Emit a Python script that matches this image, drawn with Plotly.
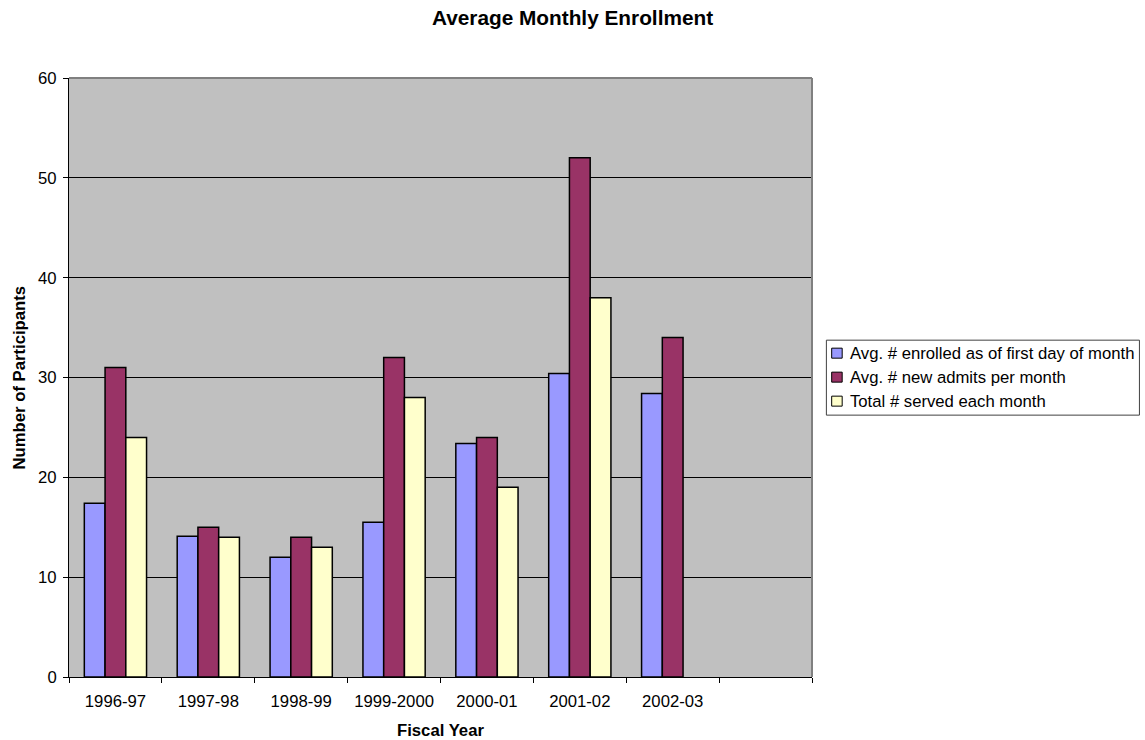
import plotly.graph_objects as go

# Fiscal years on the category axis (one spare slot at the end stays empty)
years = ["1996-97", "1997-98", "1998-99", "1999-2000", "2000-01", "2001-02", "2002-03"]
n_slots = 8

series_names = [
    "Avg. # enrolled as of first day of month",
    "Avg. # new admits per month",
    "Total # served each month",
]
enrolled_first_day = [17.4, 14.1, 12.0, 15.5, 23.4, 30.4, 28.4]
new_admits = [31, 15, 14, 32, 24, 52, 34]
total_served = [24, 14, 13, 28, 19, 38, None]

colors = ["#9999FF", "#993366", "#FFFFCC"]
FONT = "Liberation Sans, Arial, sans-serif"

W, H = 1145, 740
L, R, T, B = 68.7, 812.3, 77.7, 677.0


def px_x(x):
    return (x - L) / (R - L)


def px_y(y):
    return (B - y) / (B - T)


xpos = list(range(len(years)))

fig = go.Figure()
for name, vals, col in zip(series_names, [enrolled_first_day, new_admits, total_served], colors):
    fig.add_trace(go.Bar(
        x=xpos, y=vals, name=name,
        marker=dict(color=col, line=dict(color="black", width=1.5)),
        showlegend=False,
    ))

shapes = [
    # top and right edges of the plot area
    dict(type="line", xref="paper", yref="paper", x0=0, x1=1, y0=1, y1=1,
         line=dict(color="#808080", width=2)),
    dict(type="line", xref="paper", yref="paper", x0=1, x1=1, y0=0, y1=1,
         line=dict(color="#808080", width=2)),
    # legend box
    dict(type="rect", xref="paper", yref="paper",
         x0=px_x(826.7), x1=px_x(1140), y0=px_y(415), y1=px_y(340),
         line=dict(color="#404040", width=1), fillcolor="white"),
]

annotations = [
    dict(text="<b>Fiscal Year</b>", xref="paper", yref="paper", x=0.5, y=0,
         yshift=-53, showarrow=False, xanchor="center", yanchor="middle",
         font=dict(family=FONT, size=16.7, color="black")),
    dict(text="<b>Number of Participants</b>", xref="paper", yref="paper", x=0, y=0.5,
         xshift=-50, textangle=-90, showarrow=False, xanchor="center", yanchor="middle",
         font=dict(family=FONT, size=16.7, color="black")),
]

# legend entries: swatch + label
row_y = [353, 377, 401]
for name, col, ry in zip(series_names, colors, row_y):
    shapes.append(dict(type="rect", xref="paper", yref="paper",
                       x0=px_x(832), x1=px_x(842.5), y0=px_y(ry + 5), y1=px_y(ry - 5),
                       line=dict(color="black", width=1), fillcolor=col))
    annotations.append(dict(text=name, xref="paper", yref="paper",
                            x=px_x(848), y=px_y(ry), showarrow=False,
                            xanchor="left", yanchor="middle",
                            font=dict(family=FONT, size=16.7, color="black")))

fig.update_layout(
    width=W, height=H,
    margin=dict(l=L, r=W - R, t=T, b=H - B, pad=0),
    paper_bgcolor="white",
    plot_bgcolor="#C0C0C0",
    barmode="group",
    bargap=0.33,
    bargroupgap=0,
    title=dict(text="<b>Average Monthly Enrollment</b>", x=0.5, xanchor="center",
               y=1 - 18 / H, yanchor="middle",
               font=dict(family=FONT, size=20.8, color="black")),
    font=dict(family=FONT, size=16.7, color="black"),
    shapes=shapes,
    annotations=annotations,
    xaxis=dict(
        range=[-0.5, n_slots - 0.5],
        tickvals=xpos, ticktext=years,
        ticks="outside", ticklen=5, tickcolor="rgba(0,0,0,0)",
        ticklabelstandoff=4,
        showline=True, linecolor="black", linewidth=1,
        showgrid=False, zeroline=False,
        tickfont=dict(family=FONT, size=16.7, color="black"),
        minor=dict(tickvals=[k - 0.5 for k in range(n_slots + 1)],
                   ticks="outside", ticklen=5, tickcolor="black", tickwidth=1,
                   showgrid=False),
    ),
    yaxis=dict(
        range=[0, 60], dtick=10, tick0=0,
        ticks="outside", ticklen=5, tickcolor="black", tickwidth=1,
        ticklabelstandoff=3,
        showline=True, linecolor="black", linewidth=1,
        showgrid=True, gridcolor="black", gridwidth=1,
        zeroline=False,
        tickfont=dict(family=FONT, size=16.7, color="black"),
    ),
)

fig.write_html("out.html")
